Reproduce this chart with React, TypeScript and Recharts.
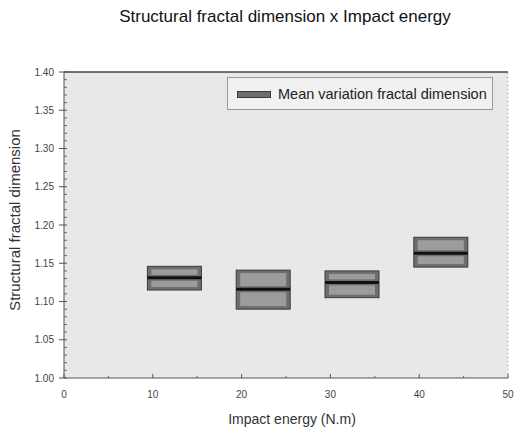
import React from 'react';
import { ComposedChart, Bar, XAxis, YAxis, CartesianGrid, ReferenceLine } from 'recharts';

const energies = [10, 20, 30, 40];
const lowValues = [1.115, 1.09, 1.105, 1.145];
const highValues = [1.146, 1.141, 1.14, 1.184];
const meanValues = [1.131, 1.116, 1.125, 1.163];
const xTicks = [0, 10, 20, 30, 40, 50];
const yTicks = [1.0, 1.05, 1.1, 1.15, 1.2, 1.25, 1.3, 1.35, 1.4];
const seriesName = 'Mean variation fractal dimension';
const titleText = 'Structural fractal dimension x Impact energy';
const xLabelText = 'Impact energy (N.m)';
const yLabelText = 'Structural fractal dimension';

const data = energies.map((e, i) => ({
  energy: e,
  range: [lowValues[i], highValues[i]],
  low: lowValues[i],
  high: highValues[i],
  mean: meanValues[i],
}));

const yMinor = Array.from({ length: 41 }, (_, i) => +(1 + i * 0.01).toFixed(2));
const xMinor = Array.from({ length: 11 }, (_, i) => i * 5);

const FONT = '"Liberation Sans", Arial, sans-serif';
const SHIFT = 22;

const isMajorY = (v: number) => yTicks.some((t) => Math.abs(t - v) < 1e-6);
const isMajorX = (v: number) => xTicks.some((t) => Math.abs(t - v) < 1e-6);

const YTick = (props: any) => {
  const { x, y, payload } = props;
  const v = payload.value;
  if (isMajorY(v)) {
    return (
      <g>
        <line x1={x - 5} x2={x + 3} y1={y} y2={y} stroke="#555" strokeWidth={1} />
        <text x={x - 10} y={y} dy={3.5} textAnchor="end" fontSize={10} fill="#444" fontFamily={FONT}>
          {v.toFixed(2)}
        </text>
      </g>
    );
  }
  return <line x1={x} x2={x + 3} y1={y} y2={y} stroke="#666" strokeWidth={1} />;
};

const XTick = (props: any) => {
  const { x, y, payload } = props;
  const v = payload.value;
  if (isMajorX(v)) {
    return (
      <g>
        <line x1={x} x2={x} y1={y - 4} y2={y} stroke="#555" strokeWidth={1} />
        <text x={x} y={y} dy={20} textAnchor="middle" fontSize={10} fill="#444" fontFamily={FONT}>
          {v}
        </text>
      </g>
    );
  }
  return <line x1={x} x2={x} y1={y - 2} y2={y} stroke="#666" strokeWidth={1} />;
};

const BoxShape = (props: any) => {
  const { x, y, width, height, payload } = props;
  if (x == null || y == null || !payload) return null;
  const top = Math.min(y, y + height);
  const h = Math.abs(height);
  const my = top + (h * (payload.high - payload.mean)) / (payload.high - payload.low);
  const bx = x + SHIFT;
  return (
    <g>
      <rect x={bx} y={top} width={width} height={h} fill="#6e6e6e" stroke="#3a3a3a" strokeWidth={1} />
      <rect x={bx + 4} y={top + 3} width={width - 8} height={Math.max(0, my - top - 6)} fill="#9c9c9c" />
      <rect x={bx + 4} y={my + 3} width={width - 8} height={Math.max(0, top + h - my - 6)} fill="#9c9c9c" />
      <line x1={bx} x2={bx + width} y1={my} y2={my} stroke="#111" strokeWidth={3} />
    </g>
  );
};

export default function App() {
  return (
    <div style={{ position: 'absolute', left: 0, top: 0, width: 514, height: 432, background: '#fff', fontFamily: FONT }}>
      <div
        style={{
          position: 'absolute',
          left: 0,
          width: 570,
          top: 7,
          textAlign: 'center',
          fontSize: 17,
          color: '#111',
          whiteSpace: 'nowrap',
        }}
      >
        {titleText}
      </div>
      <ComposedChart
        width={514}
        height={432}
        data={data}
        margin={{ top: 72, right: 6, bottom: 24, left: 0 }}
      >
        <CartesianGrid fill="#e8e8e8" horizontal={false} vertical={false} />
        <XAxis
          type="number"
          dataKey="energy"
          domain={[0, 50]}
          ticks={xMinor}
          interval={0}
          height={30}
          tickSize={0}
          tickMargin={0}
          tickLine={false}
          tick={<XTick />}
          stroke="#555"
          allowDataOverflow
        />
        <YAxis
          type="number"
          domain={[1.0, 1.4]}
          ticks={yMinor}
          interval={0}
          width={64}
          tickSize={0}
          tickMargin={0}
          tickLine={false}
          tick={<YTick />}
          stroke="#555"
          allowDataOverflow
        />
        <ReferenceLine y={1.4} stroke="#444" strokeWidth={1.5} />
        <ReferenceLine x={50} stroke="#999" strokeDasharray="1 3" />
        <Bar dataKey="range" name={seriesName} barSize={54} shape={<BoxShape />} isAnimationActive={false} />
      </ComposedChart>
      <div
        style={{
          position: 'absolute',
          left: 227,
          top: 77,
          width: 266,
          height: 33,
          border: '1px solid #999',
          background: '#f1f1f1',
          boxSizing: 'border-box',
        }}
      >
        <div
          style={{
            position: 'absolute',
            left: 9,
            top: 13,
            width: 34,
            height: 7,
            background: '#6e6e6e',
            border: '1px solid #3a3a3a',
            boxSizing: 'border-box',
          }}
        />
        <div
          style={{
            position: 'absolute',
            left: 50,
            top: 7,
            fontSize: 14.5,
            color: '#222',
            whiteSpace: 'nowrap',
            lineHeight: '18px',
          }}
        >
          {seriesName}
        </div>
      </div>
      <div
        style={{
          position: 'absolute',
          left: 292 - 100,
          width: 200,
          top: 411,
          textAlign: 'center',
          fontSize: 14,
          color: '#333',
          whiteSpace: 'nowrap',
        }}
      >
        {xLabelText}
      </div>
      <div
        style={{
          position: 'absolute',
          left: 15 - 100,
          top: 220 - 9,
          width: 200,
          height: 18,
          lineHeight: '18px',
          textAlign: 'center',
          fontSize: 15,
          color: '#333',
          whiteSpace: 'nowrap',
          transform: 'rotate(-90deg)',
        }}
      >
        {yLabelText}
      </div>
    </div>
  );
}
